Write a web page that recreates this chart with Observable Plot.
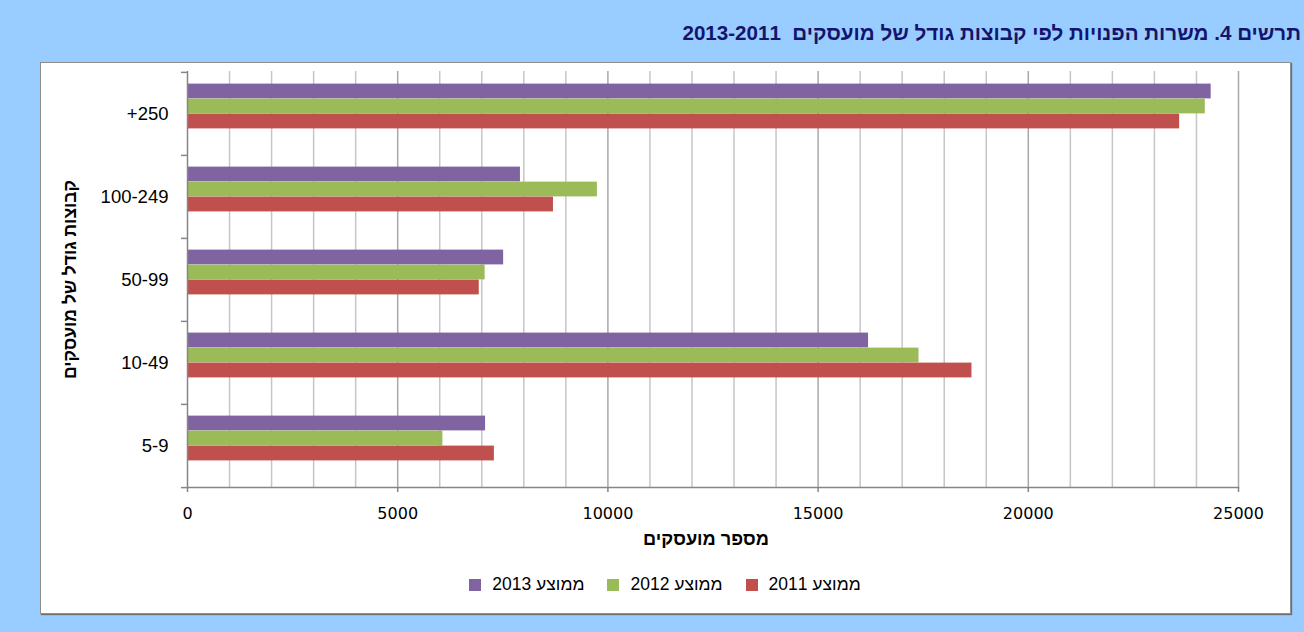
<!DOCTYPE html>
<html lang="he">
<head>
<meta charset="utf-8">
<script src="https://cdn.jsdelivr.net/npm/d3@7"></script>
<script src="https://cdn.jsdelivr.net/npm/@observablehq/plot@0.6"></script>
<style>
  html, body { margin: 0; padding: 0; }
  body { width: 1304px; height: 632px; background: #99CCFF; position: relative; overflow: hidden; font-family: "Liberation Sans", Arial, sans-serif; }
  #title { position: absolute; right: 3px; top: 21px; direction: rtl; white-space: nowrap; font-weight: bold; font-size: 20.6px; color: #14146E; }
  #panel { position: absolute; left: 40px; top: 62px; width: 1249px; height: 550px; background: #fff; border: 1px solid #8e8e8e; box-shadow: 1px 1px 1px #6f6f6f; }
  #chart { position: absolute; left: -1px; top: -1px; }
  #legend { position: absolute; width: 1250px; top: 574px; display: flex; justify-content: center; direction: rtl; font-size: 17.5px; color: #000; }
  .item { display: flex; align-items: center; direction: rtl; margin: 0 11.5px; }
  .sw { width: 12px; height: 12px; margin-right: 11px; }
</style>
</head>
<body>
<div id="title">תרשים 4. משרות הפנויות לפי קבוצות גודל של מועסקים&nbsp;&nbsp;2013-2011</div>
<div id="panel"><div id="chart"></div></div>
<div id="legend" style="left:40px"></div>
<script>
// ---- data ----
const categories = ["+250", "100-249", "50-99", "10-49", "5-9"];
const seriesNames = ["ממוצע 2013", "ממוצע 2012", "ממוצע 2011"];
const values2013 = [24350, 7920, 7520, 16200, 7090];
const values2012 = [24210, 9750, 7080, 17400, 6075];
const values2011 = [23600, 8705, 6940, 18660, 7300];
const seriesColors = ["#8064A2", "#9BBB59", "#C0504D"];
const xTicks = [0, 5000, 10000, 15000, 20000, 25000];
const gridTicks = d3.range(1000, 25001, 1000);
const xTitle = "מספר מועסקים";
const yTitle = "קבוצות גודל של מועסקים";

const seriesValues = [values2013, values2012, values2011];
const rows = seriesNames.flatMap((s, i) => categories.map((c, j) => ({series: s, category: c, value: seriesValues[i][j]})));

const W = 1250, H = 500, mL = 147, mR = 52, mT = 9, mB = 75;
const step = (H - mT - mB) / categories.length;
const barH = 15;
const inset = (step - barH) / 2;
const barOffsets = [-22.5, -7.5, 7.5];
const axisGray = "#868686";

const barMarks = seriesNames.map((s, i) =>
  Plot.barX(rows.filter(d => d.series === s), {
    x: "value", y: "category", fill: "series",
    insetTop: inset, insetBottom: inset, dy: barOffsets[i]
  })
);

const chart = Plot.plot({
  width: W, height: H,
  marginLeft: mL, marginRight: mR, marginTop: mT, marginBottom: mB,
  style: {fontFamily: "'Liberation Sans', Arial, sans-serif", background: "transparent", color: "#000"},
  x: {domain: [0, 25000], axis: null},
  y: {type: "band", domain: categories, padding: 0, axis: null},
  color: {domain: seriesNames, range: seriesColors},
  marks: [
    Plot.ruleX(gridTicks.filter(d => d % 5000 !== 0), {stroke: "#c6c6c6", strokeWidth: 1.5}),
    Plot.ruleX(gridTicks.filter(d => d % 5000 === 0), {stroke: "#a8a8a8", strokeWidth: 1.5}),
    ...barMarks,
    Plot.ruleX([0], {stroke: axisGray, strokeWidth: 1.5}),
    Plot.frame({anchor: "bottom", stroke: axisGray, strokeWidth: 1.5}),
    Plot.axisX({ticks: xTicks, tickSize: 5, tickPadding: 15, stroke: axisGray, strokeWidth: 1.5,
      fontSize: 16, fontFamily: "'DejaVu Sans', sans-serif", tickFormat: d3.format("d"), label: null}),
    Plot.axisY({tickSize: 0, tickPadding: 19, fontSize: 18.5, label: null}),
    Plot.axisY({tickSize: 6, tickFormat: () => "", stroke: axisGray, strokeWidth: 1.5, dy: -step / 2, label: null}),
    Plot.axisY({ticks: [categories[categories.length - 1]], tickSize: 6, tickFormat: () => "", stroke: axisGray, strokeWidth: 1.5, dy: step / 2, label: null}),
    Plot.text([xTitle], {text: d => d, frameAnchor: "bottom", dx: -7, dy: 57, fontWeight: "bold", fontSize: 18.2}),
    Plot.text([yTitle], {text: d => d, frameAnchor: "left", textAnchor: "middle", dx: -117, rotate: -90, fontWeight: "bold", fontSize: 17.5})
  ]
});
document.getElementById("chart").appendChild(chart);

// legend (right-to-left: 2011, 2012, 2013)
const legend = document.getElementById("legend");
[2, 1, 0].forEach(i => {
  const item = document.createElement("div");
  item.className = "item";
  const t = document.createElement("span");
  t.textContent = seriesNames[i];
  const sw = document.createElement("span");
  sw.className = "sw";
  sw.style.background = seriesColors[i];
  item.appendChild(t);
  item.appendChild(sw);
  legend.appendChild(item);
});
</script>
</body>
</html>
